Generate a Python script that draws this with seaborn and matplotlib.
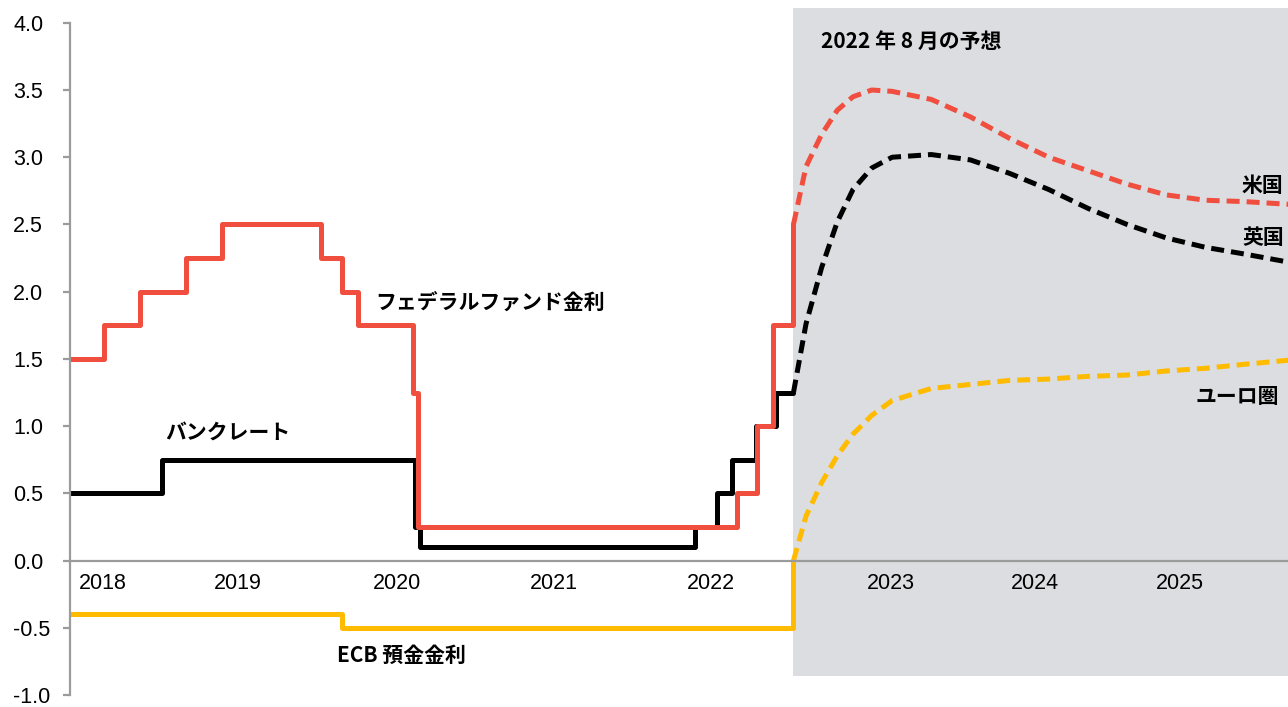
import numpy as np
import pandas as pd
import matplotlib.pyplot as plt
import seaborn as sns

# policy rates, x in fractional years
fed_x = [2018.00, 2018.22, 2018.45, 2018.74, 2018.97, 2019.60, 2019.74, 2019.84,
         2020.19, 2020.22, 2022.26, 2022.39, 2022.49, 2022.62]
fed_y = [1.50, 1.75, 2.00, 2.25, 2.50, 2.25, 2.00, 1.75, 1.25, 0.25, 0.50, 1.00, 1.75, 2.50]

boe_x = [2018.00, 2018.59, 2020.20, 2020.235, 2021.99, 2022.13, 2022.23, 2022.38, 2022.51, 2022.62]
boe_y = [0.50, 0.75, 0.25, 0.10, 0.25, 0.50, 0.75, 1.00, 1.25, 1.25]

ecb_x = [2018.00, 2019.74, 2022.62]
ecb_y = [-0.40, -0.50, 0.00]

# market expectations (Aug 2022)
fc_x = [2022.62, 2022.70, 2022.80, 2022.90, 2023.00, 2023.12, 2023.25, 2023.50, 2023.75,
        2024.00, 2024.25, 2024.50, 2024.75, 2025.00, 2025.25, 2025.50, 2025.78]
fc_us = [2.50, 2.93, 3.17, 3.35, 3.45, 3.50, 3.49, 3.43, 3.30,
         3.14, 3.00, 2.90, 2.80, 2.72, 2.68, 2.67, 2.65]
fc_uk = [1.25, 1.76, 2.18, 2.52, 2.76, 2.92, 3.00, 3.02, 2.98,
         2.88, 2.76, 2.62, 2.50, 2.40, 2.33, 2.28, 2.22]
fc_ez = [0.00, 0.33, 0.58, 0.78, 0.94, 1.08, 1.19, 1.28, 1.31,
         1.34, 1.35, 1.37, 1.38, 1.41, 1.43, 1.46, 1.49]

year_labels = ['2018', '2019', '2020', '2021', '2022', '2023', '2024', '2025']
year_pos = [2018.21, 2019.07, 2020.09, 2021.09, 2022.09, 2023.24, 2024.16, 2025.09]

RED = '#f04e3e'
YEL = '#ffbb00'
GRY = '#9b9b9b'

sns.set_theme(style='white')
plt.rcParams['font.family'] = ['Liberation Sans', 'Noto Sans CJK JP']

fig = plt.figure(figsize=(12.88, 7.07), dpi=100)
ax = fig.add_axes([70 / 1288, 12 / 707, 1 - 70 / 1288, 1 - 20 / 707])

xmax = 2025.778
ax.fill_between([fc_x[0], xmax], -0.86, 4.11, color='#dcdde0', lw=0, zorder=0)

lw = 3.6
dash = (0, (2.6, 1.4))
sns.lineplot(x=boe_x, y=boe_y, color='black', lw=lw, drawstyle='steps-post', ax=ax)
sns.lineplot(x=fed_x, y=fed_y, color=RED, lw=lw, drawstyle='steps-post', ax=ax)
sns.lineplot(x=ecb_x, y=ecb_y, color=YEL, lw=lw, drawstyle='steps-post', ax=ax)
sns.lineplot(x=fc_x, y=fc_uk, color='black', lw=lw, linestyle=dash, ax=ax)
sns.lineplot(x=fc_x, y=fc_us, color=RED, lw=lw, linestyle=dash, ax=ax)
sns.lineplot(x=fc_x, y=fc_ez, color=YEL, lw=lw, linestyle=dash, ax=ax)

ax.set_xlim(2018.0, xmax)
ax.set_ylim(-1.0, 4.11)

# spines
for s in ['top', 'right']:
    ax.spines[s].set_visible(False)
ax.spines['bottom'].set_position(('data', 0))
ax.spines['bottom'].set_color(GRY)
ax.spines['bottom'].set_linewidth(1.6)
ax.spines['left'].set_color(GRY)
ax.spines['left'].set_linewidth(1.6)
ax.spines['left'].set_bounds(-1.0, 4.0)
ax.spines['left'].set_zorder(5)

yt = np.arange(-1.0, 4.01, 0.5)
ax.set_yticks(yt, [f'{v:.1f}' for v in yt])
ax.set_xticks(year_pos, year_labels)
ax.tick_params(axis='y', left=True, length=5, width=1.6, color=GRY, pad=36,
               labelsize=15.5, labelcolor='black')
ax.tick_params(axis='x', bottom=True, length=0, pad=9, labelsize=15.5, labelcolor='black')
for lbl in ax.get_yticklabels():
    lbl.set_horizontalalignment('left')
ax.set_xlabel('')
ax.set_ylabel('')

jp = dict(family=['Noto Sans CJK JP', 'DejaVu Sans'], fontsize=15, fontweight='bold',
          va='center', ha='left', color='black')
ax.text(2019.948, 1.925, 'フェデラルファンド金利', **jp)
ax.text(2018.607, 0.953, 'バンクレート', **jp)
ax.text(2019.705, -0.703, 'ECB 預金金利', **jp)
ax.text(2022.796, 3.863, '2022 年 8 月の予想', **jp)
ax.text(2025.484, 2.787, '米国', **jp)
ax.text(2025.49, 2.406, '英国', **jp)
ax.text(2025.19, 1.223, 'ユーロ圏', **jp)

fig.savefig('out.png', dpi=100)
